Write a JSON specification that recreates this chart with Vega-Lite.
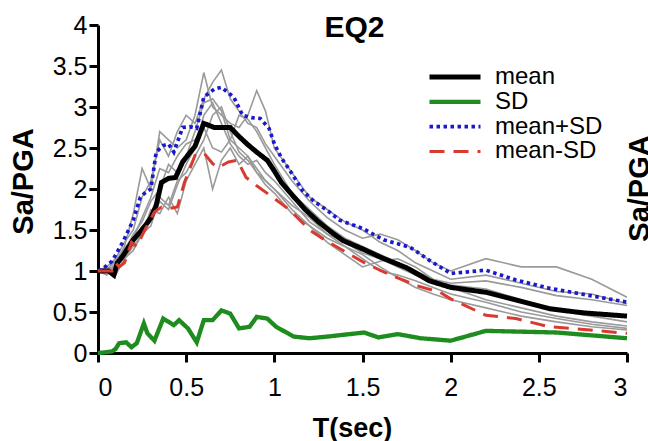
{
  "$schema": "https://vega.github.io/schema/vega-lite/v6.json",
  "width": 529,
  "height": 328,
  "autosize": {"type": "none"},
  "padding": {"left": 98, "top": 25, "right": 21, "bottom": 88},
  "background": "white",
  "title": {"text": "EQ2", "font": "Liberation Sans", "fontSize": 30, "fontWeight": "bold", "color": "black", "anchor": "middle", "dx": -8, "baseline": "alphabetic", "offset": 0, "dy": 54},
  "config": {
    "view": {"stroke": null},
    "axis": {"grid": false, "domainColor": "black", "domainWidth": 3, "tickColor": "black", "tickWidth": 3, "tickSize": 9, "labelFont": "Liberation Sans", "labelFontSize": 25, "labelColor": "black", "titleFont": "Liberation Sans", "titleColor": "black", "titleFontWeight": "bold"},
    "legend": {"orient": "none", "legendX": 329, "legendY": 40, "symbolType": "stroke", "symbolSize": 2601, "clipHeight": 24, "labelFont": "Liberation Sans", "labelFontSize": 24, "labelColor": "black", "labelOffset": 12, "rowPadding": 0.8, "padding": 0}
  },
  "datasets": {
    "records": [
      {"t":0,"g1":1,"g2":1,"g3":1,"g4":1,"g5":1,"g6":1,"g7":1},
      {"t":0.05,"g1":1.05,"g2":0.95,"g3":1.0,"g4":1.05,"g5":1.0,"g6":1.02,"g7":1.0},
      {"t":0.1,"g1":1.15,"g2":1.1,"g3":0.95,"g4":1.0,"g5":1.08,"g6":1.12,"g7":1.05},
      {"t":0.15,"g1":1.35,"g2":1.3,"g3":1.15,"g4":1.25,"g5":1.2,"g6":1.28,"g7":1.15},
      {"t":0.2,"g1":1.5,"g2":1.7,"g3":1.25,"g4":1.45,"g5":1.35,"g6":1.4,"g7":1.3},
      {"t":0.25,"g1":1.9,"g2":2.25,"g3":1.45,"g4":1.6,"g5":1.5,"g6":1.65,"g7":1.45},
      {"t":0.3,"g1":2.1,"g2":2.0,"g3":1.75,"g4":1.85,"g5":1.6,"g6":1.9,"g7":1.55},
      {"t":0.35,"g1":2.6,"g2":2.7,"g3":1.7,"g4":2.0,"g5":1.85,"g6":2.25,"g7":1.9},
      {"t":0.4,"g1":2.4,"g2":2.6,"g3":1.9,"g4":2.3,"g5":1.75,"g6":2.2,"g7":1.8},
      {"t":0.45,"g1":2.7,"g2":2.5,"g3":1.7,"g4":2.2,"g5":2.05,"g6":2.4,"g7":2.1},
      {"t":0.5,"g1":2.9,"g2":2.6,"g3":2.1,"g4":2.4,"g5":2.3,"g6":2.55,"g7":2.2},
      {"t":0.55,"g1":2.8,"g2":2.9,"g3":2.3,"g4":2.7,"g5":2.5,"g6":2.6,"g7":2.4},
      {"t":0.6,"g1":3.1,"g2":3.42,"g3":2.5,"g4":3.05,"g5":2.9,"g6":2.75,"g7":2.6},
      {"t":0.65,"g1":3.3,"g2":3.0,"g3":2.0,"g4":3.1,"g5":3.05,"g6":2.5,"g7":2.9},
      {"t":0.7,"g1":3.45,"g2":2.9,"g3":2.35,"g4":2.95,"g5":2.8,"g6":2.45,"g7":3.0},
      {"t":0.75,"g1":3.1,"g2":2.8,"g3":2.5,"g4":2.6,"g5":2.55,"g6":2.6,"g7":2.7},
      {"t":0.8,"g1":2.95,"g2":2.75,"g3":2.3,"g4":2.5,"g5":2.4,"g6":2.9,"g7":2.45},
      {"t":0.85,"g1":2.8,"g2":2.9,"g3":2.4,"g4":2.4,"g5":2.3,"g6":2.85,"g7":2.35},
      {"t":0.9,"g1":2.75,"g2":3.2,"g3":2.2,"g4":2.25,"g5":2.35,"g6":2.7,"g7":2.2},
      {"t":0.95,"g1":2.55,"g2":2.95,"g3":2.1,"g4":2.1,"g5":2.2,"g6":2.5,"g7":2.05},
      {"t":1.0,"g1":2.4,"g2":2.5,"g3":2.0,"g4":2.0,"g5":2.1,"g6":2.3,"g7":1.95},
      {"t":1.1,"g1":2.1,"g2":2.2,"g3":1.75,"g4":1.8,"g5":1.85,"g6":1.95,"g7":1.7},
      {"t":1.2,"g1":1.85,"g2":1.9,"g3":1.55,"g4":1.65,"g5":1.6,"g6":1.75,"g7":1.55},
      {"t":1.3,"g1":1.65,"g2":1.75,"g3":1.35,"g4":1.45,"g5":1.45,"g6":1.55,"g7":1.4},
      {"t":1.4,"g1":1.5,"g2":1.6,"g3":1.2,"g4":1.3,"g5":1.35,"g6":1.4,"g7":1.3},
      {"t":1.5,"g1":1.4,"g2":1.5,"g3":1.05,"g4":1.2,"g5":1.22,"g6":1.3,"g7":1.15},
      {"t":1.6,"g1":1.45,"g2":1.35,"g3":1.12,"g4":1.05,"g5":1.15,"g6":1.2,"g7":1.0},
      {"t":1.7,"g1":1.38,"g2":1.25,"g3":1.15,"g4":0.92,"g5":1.05,"g6":1.1,"g7":0.95},
      {"t":1.8,"g1":1.25,"g2":1.1,"g3":1.05,"g4":0.8,"g5":0.95,"g6":1.0,"g7":0.88},
      {"t":1.9,"g1":1.1,"g2":1.0,"g3":0.9,"g4":0.72,"g5":0.88,"g6":0.9,"g7":0.8},
      {"t":2.0,"g1":1.0,"g2":0.9,"g3":0.8,"g4":0.65,"g5":0.83,"g6":0.85,"g7":0.72},
      {"t":2.2,"g1":1.15,"g2":0.95,"g3":0.65,"g4":0.55,"g5":0.78,"g6":0.88,"g7":0.62},
      {"t":2.4,"g1":1.05,"g2":0.85,"g3":0.55,"g4":0.45,"g5":0.65,"g6":0.8,"g7":0.5},
      {"t":2.6,"g1":1.05,"g2":0.75,"g3":0.45,"g4":0.38,"g5":0.52,"g6":0.7,"g7":0.42},
      {"t":2.8,"g1":0.9,"g2":0.72,"g3":0.38,"g4":0.32,"g5":0.45,"g6":0.65,"g7":0.35},
      {"t":3.0,"g1":0.68,"g2":0.6,"g3":0.33,"g4":0.28,"g5":0.38,"g6":0.58,"g7":0.3}
    ],
    "stats": [
      {"s":"mean","t":0,"v":1},{"s":"mean","t":0.06,"v":1.0},{"s":"mean","t":0.09,"v":0.95},{"s":"mean","t":0.11,"v":1.1},{"s":"mean","t":0.14,"v":1.18},{"s":"mean","t":0.17,"v":1.28},{"s":"mean","t":0.2,"v":1.38},{"s":"mean","t":0.24,"v":1.48},{"s":"mean","t":0.27,"v":1.56},{"s":"mean","t":0.3,"v":1.65},{"s":"mean","t":0.33,"v":1.8},{"s":"mean","t":0.36,"v":2.08},{"s":"mean","t":0.4,"v":2.13},{"s":"mean","t":0.44,"v":2.14},{"s":"mean","t":0.48,"v":2.33},{"s":"mean","t":0.52,"v":2.44},{"s":"mean","t":0.55,"v":2.52},{"s":"mean","t":0.6,"v":2.8},{"s":"mean","t":0.66,"v":2.75},{"s":"mean","t":0.75,"v":2.75},{"s":"mean","t":0.8,"v":2.64},{"s":"mean","t":0.85,"v":2.54},{"s":"mean","t":0.9,"v":2.45},{"s":"mean","t":0.96,"v":2.35},{"s":"mean","t":1.0,"v":2.22},{"s":"mean","t":1.04,"v":2.08},{"s":"mean","t":1.1,"v":1.93},{"s":"mean","t":1.17,"v":1.76},{"s":"mean","t":1.25,"v":1.6},{"s":"mean","t":1.32,"v":1.48},{"s":"mean","t":1.39,"v":1.37},{"s":"mean","t":1.5,"v":1.27},{"s":"mean","t":1.6,"v":1.17},{"s":"mean","t":1.75,"v":1.04},{"s":"mean","t":1.88,"v":0.88},{"s":"mean","t":2.0,"v":0.8},{"s":"mean","t":2.2,"v":0.74},{"s":"mean","t":2.38,"v":0.64},{"s":"mean","t":2.56,"v":0.54},{"s":"mean","t":2.75,"v":0.49},{"s":"mean","t":3.0,"v":0.45},
      {"s":"SD","t":0,"v":0},{"s":"SD","t":0.05,"v":0.01},{"s":"SD","t":0.08,"v":0.02},{"s":"SD","t":0.1,"v":0.05},{"s":"SD","t":0.12,"v":0.12},{"s":"SD","t":0.16,"v":0.13},{"s":"SD","t":0.19,"v":0.07},{"s":"SD","t":0.22,"v":0.12},{"s":"SD","t":0.26,"v":0.36},{"s":"SD","t":0.28,"v":0.24},{"s":"SD","t":0.32,"v":0.15},{"s":"SD","t":0.37,"v":0.42},{"s":"SD","t":0.43,"v":0.34},{"s":"SD","t":0.46,"v":0.4},{"s":"SD","t":0.51,"v":0.3},{"s":"SD","t":0.56,"v":0.13},{"s":"SD","t":0.6,"v":0.4},{"s":"SD","t":0.65,"v":0.4},{"s":"SD","t":0.7,"v":0.52},{"s":"SD","t":0.75,"v":0.48},{"s":"SD","t":0.8,"v":0.3},{"s":"SD","t":0.86,"v":0.32},{"s":"SD","t":0.9,"v":0.44},{"s":"SD","t":0.96,"v":0.42},{"s":"SD","t":1.01,"v":0.32},{"s":"SD","t":1.11,"v":0.2},{"s":"SD","t":1.2,"v":0.18},{"s":"SD","t":1.3,"v":0.2},{"s":"SD","t":1.51,"v":0.25},{"s":"SD","t":1.59,"v":0.19},{"s":"SD","t":1.7,"v":0.23},{"s":"SD","t":1.83,"v":0.18},{"s":"SD","t":2.0,"v":0.15},{"s":"SD","t":2.2,"v":0.27},{"s":"SD","t":2.6,"v":0.25},{"s":"SD","t":3.0,"v":0.18},
      {"s":"mean+SD","t":0,"v":1},{"s":"mean+SD","t":0.04,"v":1.05},{"s":"mean+SD","t":0.08,"v":1.12},{"s":"mean+SD","t":0.14,"v":1.35},{"s":"mean+SD","t":0.2,"v":1.62},{"s":"mean+SD","t":0.24,"v":1.9},{"s":"mean+SD","t":0.27,"v":1.96},{"s":"mean+SD","t":0.3,"v":2.0},{"s":"mean+SD","t":0.33,"v":2.45},{"s":"mean+SD","t":0.37,"v":2.53},{"s":"mean+SD","t":0.4,"v":2.55},{"s":"mean+SD","t":0.43,"v":2.45},{"s":"mean+SD","t":0.48,"v":2.75},{"s":"mean+SD","t":0.52,"v":2.76},{"s":"mean+SD","t":0.56,"v":2.74},{"s":"mean+SD","t":0.6,"v":3.12},{"s":"mean+SD","t":0.66,"v":3.22},{"s":"mean+SD","t":0.7,"v":3.24},{"s":"mean+SD","t":0.77,"v":3.12},{"s":"mean+SD","t":0.82,"v":2.9},{"s":"mean+SD","t":0.87,"v":2.87},{"s":"mean+SD","t":0.92,"v":2.86},{"s":"mean+SD","t":0.97,"v":2.74},{"s":"mean+SD","t":1.0,"v":2.55},{"s":"mean+SD","t":1.04,"v":2.38},{"s":"mean+SD","t":1.09,"v":2.22},{"s":"mean+SD","t":1.16,"v":1.98},{"s":"mean+SD","t":1.22,"v":1.86},{"s":"mean+SD","t":1.3,"v":1.74},{"s":"mean+SD","t":1.37,"v":1.62},{"s":"mean+SD","t":1.5,"v":1.52},{"s":"mean+SD","t":1.62,"v":1.38},{"s":"mean+SD","t":1.77,"v":1.29},{"s":"mean+SD","t":1.88,"v":1.13},{"s":"mean+SD","t":2.0,"v":0.97},{"s":"mean+SD","t":2.2,"v":1.01},{"s":"mean+SD","t":2.37,"v":0.89},{"s":"mean+SD","t":2.56,"v":0.79},{"s":"mean+SD","t":2.79,"v":0.7},{"s":"mean+SD","t":3.0,"v":0.62},
      {"s":"mean-SD","t":0,"v":1},{"s":"mean-SD","t":0.08,"v":1.0},{"s":"mean-SD","t":0.1,"v":1.1},{"s":"mean-SD","t":0.12,"v":1.05},{"s":"mean-SD","t":0.15,"v":1.1},{"s":"mean-SD","t":0.19,"v":1.35},{"s":"mean-SD","t":0.22,"v":1.3},{"s":"mean-SD","t":0.27,"v":1.52},{"s":"mean-SD","t":0.32,"v":1.72},{"s":"mean-SD","t":0.36,"v":1.78},{"s":"mean-SD","t":0.4,"v":1.76},{"s":"mean-SD","t":0.45,"v":1.78},{"s":"mean-SD","t":0.49,"v":2.08},{"s":"mean-SD","t":0.55,"v":2.41},{"s":"mean-SD","t":0.6,"v":2.44},{"s":"mean-SD","t":0.65,"v":2.31},{"s":"mean-SD","t":0.68,"v":2.26},{"s":"mean-SD","t":0.74,"v":2.33},{"s":"mean-SD","t":0.79,"v":2.35},{"s":"mean-SD","t":0.84,"v":2.14},{"s":"mean-SD","t":0.9,"v":2.04},{"s":"mean-SD","t":0.99,"v":1.9},{"s":"mean-SD","t":1.09,"v":1.74},{"s":"mean-SD","t":1.2,"v":1.5},{"s":"mean-SD","t":1.3,"v":1.36},{"s":"mean-SD","t":1.39,"v":1.25},{"s":"mean-SD","t":1.52,"v":1.09},{"s":"mean-SD","t":1.66,"v":0.95},{"s":"mean-SD","t":1.81,"v":0.82},{"s":"mean-SD","t":1.94,"v":0.74},{"s":"mean-SD","t":2.0,"v":0.66},{"s":"mean-SD","t":2.2,"v":0.46},{"s":"mean-SD","t":2.37,"v":0.42},{"s":"mean-SD","t":2.56,"v":0.32},{"s":"mean-SD","t":2.79,"v":0.28},{"s":"mean-SD","t":3.0,"v":0.24}
    ]
  },
  "resolve": {"axis": {"y": "independent"}},
  "layer": [
    {
      "data": {"name": "records"},
      "transform": [{"fold": ["g1","g2","g3","g4","g5","g6","g7"], "as": ["rec","sa"]}],
      "mark": {"type": "line", "color": "#9a9a9a", "strokeWidth": 1.6},
      "encoding": {
        "x": {"field": "t", "type": "quantitative", "scale": {"domain": [0, 3], "nice": false},
              "axis": {"title": "T(sec)", "values": [0,0.5,1,1.5,2,2.5,3], "format": "~g", "labelPadding": 13, "titleFontSize": 27, "titleX": 254, "titleY": 83, "titleBaseline": "alphabetic", "titleAlign": "center"}},
        "y": {"field": "sa", "type": "quantitative", "scale": {"domain": [0, 4], "nice": false},
              "axis": {"title": "Sa/PGA", "values": [0,0.5,1,1.5,2,2.5,3,3.5,4], "format": "~g", "labelPadding": 2, "titleFontSize": 29, "titleAngle": 270, "titleX": -75, "titleY": 156, "titleBaseline": "middle", "titleAlign": "center"}},
        "detail": {"field": "rec"}
      }
    },
    {
      "data": {"name": "stats"},
      "mark": {"type": "line", "strokeCap": "butt"},
      "encoding": {
        "x": {"field": "t", "type": "quantitative"},
        "y": {"field": "v", "type": "quantitative",
              "axis": {"orient": "right", "domain": false, "ticks": false, "labels": false, "title": "Sa/PGA", "titleFontSize": 29, "titleAngle": 270, "titleX": 12, "titleY": 163, "titleBaseline": "middle", "titleAlign": "center"}},
        "color": {"field": "s", "type": "nominal", "scale": {"domain": ["mean","SD","mean+SD","mean-SD"], "range": ["#000000","#1e8c1e","#1a1acc","#d93a30"]}, "legend": {"title": null}},
        "strokeDash": {"field": "s", "type": "nominal", "scale": {"domain": ["mean","SD","mean+SD","mean-SD"], "range": [[1,0],[1,0],[3.5,3.5],[15,9]]}, "legend": {"title": null}},
        "strokeWidth": {"field": "s", "type": "nominal", "scale": {"domain": ["mean","SD","mean+SD","mean-SD"], "range": [5,3,3.5,3.5]}, "legend": {"title": null}}
      }
    }
  ]
}
